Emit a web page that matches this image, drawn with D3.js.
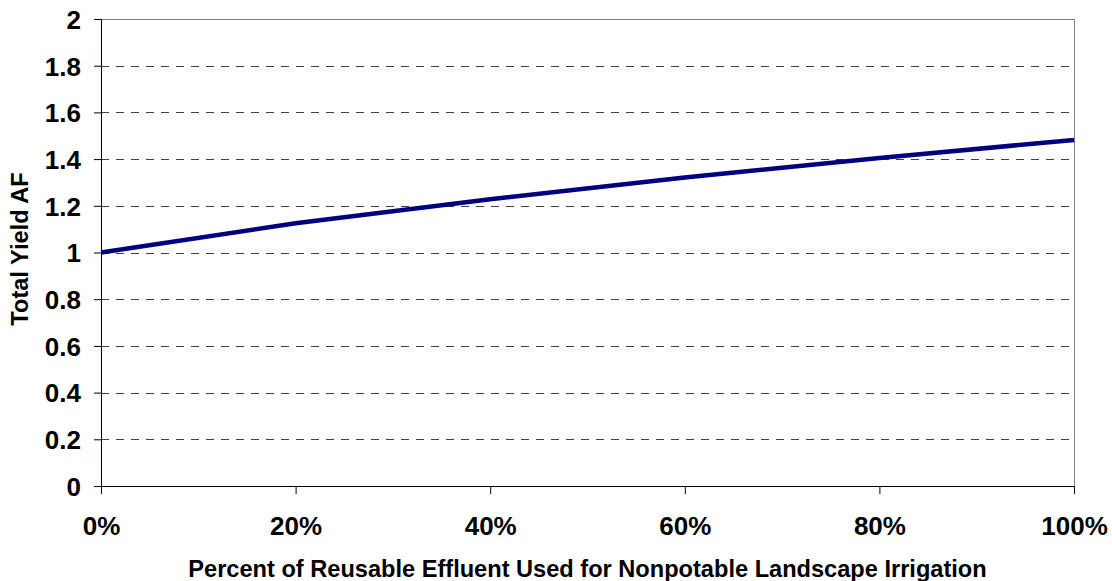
<!DOCTYPE html>
<html lang="en">
<head>
    <meta charset="utf-8">
    <title>Total Yield AF</title>
    <style>
        body {
            margin: 0;
            background-color: white;
        }
        .axis text {
            font: bold 26px "Liberation Sans", Arial, sans-serif;
            fill: #000;
        }
        .grid line {
            stroke: #404040;
            stroke-dasharray: 8, 7;
            shape-rendering: crispEdges;
        }
        .grid path {
            stroke: none;
        }
        .line {
            fill: none;
            stroke: #000080;
            stroke-width: 4.5px;
        }
        .title {
            font: bold 23.6px "Liberation Sans", Arial, sans-serif;
        }
    </style>
</head>
<body>
    <script src="https://d3js.org/d3.v7.min.js"></script>
    <svg width="1112" height="581"></svg>
    <script>
        // data
        var pctUsed = [0, 0.2, 0.4, 0.6, 0.8, 1.0];
        var totalYield = [1.0, 1.125, 1.228, 1.321, 1.405, 1.482];
        var yTicks = [0, 0.2, 0.4, 0.6, 0.8, 1, 1.2, 1.4, 1.6, 1.8, 2];
        var xTicks = [0, 0.2, 0.4, 0.6, 0.8, 1.0];

        var data = pctUsed.map(function(p, i) {
            return { pct: p, val: totalYield[i] };
        });

        var svg = d3.select("svg"),
            margin = { top: 19, right: 38, bottom: 95, left: 101 },
            width = +svg.attr("width") - margin.left - margin.right,
            height = +svg.attr("height") - margin.top - margin.bottom;

        var x = d3.scaleLinear().domain([0, 1]).range([0, width]);
        var y = d3.scaleLinear().domain([0, 2]).range([height, 0]);

        var g = svg.append("g")
            .attr("transform", "translate(" + margin.left + "," + margin.top + ")");

        // dashed gridlines (0 and 2 are the axis and the border)
        g.append("g")
            .attr("class", "grid")
            .call(d3.axisLeft(y)
                .tickValues(yTicks.filter(function(d) { return d > 0 && d < 2; }))
                .tickSize(-width)
                .tickFormat(""));

        // top and right border, grey
        g.append("line")
            .attr("x1", 0).attr("x2", width)
            .attr("y1", 0.5).attr("y2", 0.5)
            .attr("stroke", "#808080");
        g.append("line")
            .attr("x1", width + 0.5).attr("x2", width + 0.5)
            .attr("y1", 0).attr("y2", height)
            .attr("stroke", "#808080");

        // y axis
        var yAxis = g.append("g")
            .attr("class", "axis")
            .call(d3.axisLeft(y)
                .tickValues(yTicks)
                .tickSize(7)
                .tickPadding(13)
                .tickFormat(function(d) { return d3.format("")(+d.toFixed(1)); }));
        yAxis.select(".domain").attr("stroke", "#000");
        yAxis.selectAll(".tick line").attr("stroke", "#000");
        yAxis.selectAll("text").attr("dy", "0.36em");

        // x axis
        var xAxis = g.append("g")
            .attr("class", "axis")
            .attr("transform", "translate(0," + height + ")")
            .call(d3.axisBottom(x)
                .tickValues(xTicks)
                .tickSize(8)
                .tickPadding(23)
                .tickFormat(d3.format(".0%")));
        xAxis.select(".domain").attr("stroke", "#000");
        xAxis.selectAll(".tick line").attr("stroke", "#000");

        // line
        var line = d3.line()
            .x(function(d) { return x(d.pct); })
            .y(function(d) { return y(d.val); });

        g.append("path")
            .datum(data)
            .attr("class", "line")
            .attr("d", line);

        // axis titles
        svg.append("text")
            .attr("class", "title")
            .attr("x", margin.left + width / 2)
            .attr("y", 577)
            .style("text-anchor", "middle")
            .text("Percent of Reusable Effluent Used for Nonpotable Landscape Irrigation");

        svg.append("text")
            .attr("class", "title")
            .attr("transform", "translate(28,249) rotate(-90)")
            .style("text-anchor", "middle")
            .text("Total Yield AF");
    </script>
</body>
</html>
